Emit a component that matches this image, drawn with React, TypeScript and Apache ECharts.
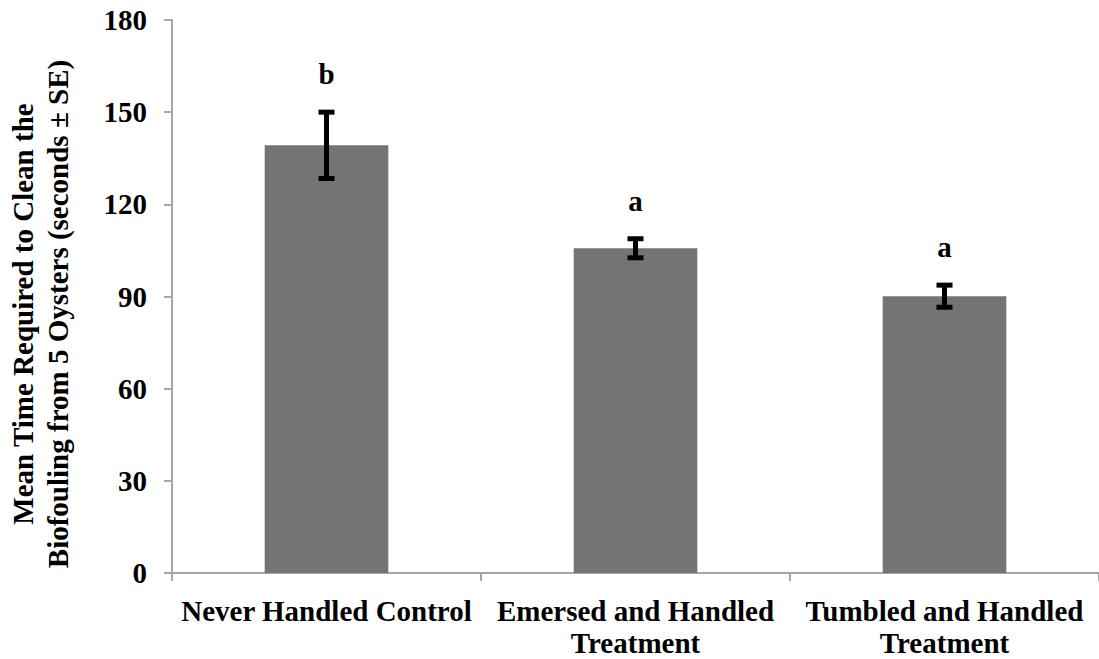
import React, { useEffect, useRef } from "react";
import * as echarts from "echarts";

// Treatment groups and their cleaning-time summary statistics
const categories = [
  "Never Handled Control",
  "Emersed and Handled Treatment",
  "Tumbled and Handled Treatment",
];
const meanTimes = [139.2, 105.7, 90.1];
const standardErrors = [10.8, 3.1, 3.6];
const groupLetters = ["b", "a", "a"];
const yTicks = { min: 0, max: 180, interval: 30 };

const FONT = '"Liberation Serif", "Times New Roman", serif';
const AXIS_GRAY = "#a6a6a6";

export default function App() {
  const ref = useRef<HTMLDivElement>(null);

  useEffect(() => {
    if (!ref.current) return;
    const chart = echarts.init(ref.current, undefined, { renderer: "svg" });

    const errorData = categories.map((_, i) => [i, meanTimes[i], standardErrors[i]]);

    chart.setOption({
      animation: false,
      backgroundColor: "#ffffff",
      grid: { left: 172, top: 20, width: 930, height: 553, containLabel: false },
      xAxis: {
        type: "category",
        data: categories,
        axisLine: { lineStyle: { color: AXIS_GRAY, width: 2 } },
        axisTick: { show: true, length: 8, lineStyle: { color: AXIS_GRAY, width: 2 } },
        axisLabel: {
          margin: 22,
          color: "#000",
          fontFamily: FONT,
          fontWeight: "bold",
          fontSize: 29,
          lineHeight: 32,
          interval: 0,
          formatter: (v: string) => v.replace(" Treatment", "\nTreatment"),
        },
      },
      yAxis: {
        type: "value",
        min: yTicks.min,
        max: yTicks.max,
        interval: yTicks.interval,
        splitLine: { show: false },
        axisLine: { show: true, lineStyle: { color: AXIS_GRAY, width: 2 } },
        axisTick: { show: true, length: 8, lineStyle: { color: AXIS_GRAY, width: 2 } },
        axisLabel: {
          margin: 25,
          color: "#000",
          fontFamily: FONT,
          fontWeight: "bold",
          fontSize: 29,
        },
      },
      graphic: [
        {
          type: "text",
          x: 40,
          y: 314,
          rotation: Math.PI / 2,
          style: {
            text: "Mean Time Required to Clean the\nBiofouling from 5 Oysters (seconds ± SE)",
            font: `bold 29px ${FONT}`,
            fill: "#000",
            align: "center",
            verticalAlign: "middle",
            lineHeight: 35,
          },
        },
      ],
      series: [
        {
          type: "bar",
          data: meanTimes,
          barWidth: "40%",
          itemStyle: { color: "#747474" },
        },
        {
          type: "custom",
          data: errorData,
          z: 5,
          renderItem: (params: any, api: any) => {
            const i = api.value(0);
            const mean = api.value(1);
            const se = api.value(2);
            const top = api.coord([i, mean + se]);
            const bot = api.coord([i, mean - se]);
            const x = top[0];
            const half = 8;
            const stroke = { stroke: "#000", lineWidth: 5 };
            return {
              type: "group",
              children: [
                { type: "line", shape: { x1: x, y1: top[1], x2: x, y2: bot[1] }, style: stroke },
                { type: "line", shape: { x1: x - half, y1: top[1], x2: x + half, y2: top[1] }, style: stroke },
                { type: "line", shape: { x1: x - half, y1: bot[1], x2: x + half, y2: bot[1] }, style: stroke },
                {
                  type: "text",
                  x: x,
                  y: top[1] - 38,
                  style: {
                    text: groupLetters[params.dataIndex],
                    font: `bold 29px ${FONT}`,
                    fill: "#000",
                    align: "center",
                    verticalAlign: "middle",
                  },
                },
              ],
            };
          },
        },
      ],
    });

    return () => chart.dispose();
  }, []);

  return (
    <div
      ref={ref}
      style={{ position: "fixed", left: 0, top: 0, width: 1099, height: 659, background: "#fff" }}
    />
  );
}
